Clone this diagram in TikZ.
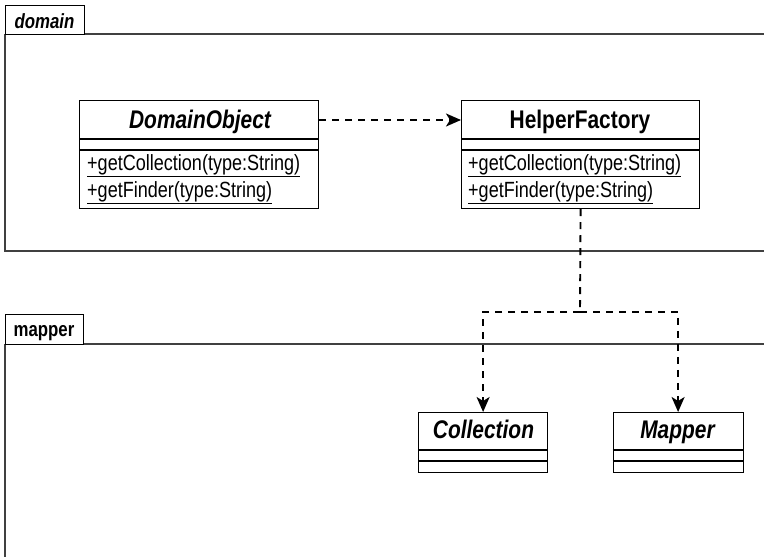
\documentclass[tikz,border=0pt]{standalone}
\usepackage{fontspec}
\setmainfont{Liberation Sans}[FakeStretch=0.82]
\usetikzlibrary{arrows.meta}
\begin{document}
\begin{tikzpicture}[x=1pt,y=-1pt,
  frameline/.style={draw=black!75,line width=1.4pt},
  tabbox/.style={draw=black,line width=1.3pt,fill=white},
  classbox/.style={draw=black,line width=1.2pt,anchor=north west,inner sep=0pt},
  sep/.style={line width=1.2pt},
  cname/.style={font=\fontsize{25.5}{28}\selectfont\bfseries\itshape,inner sep=0pt,anchor=base},
  cnameup/.style={font=\fontsize{25.5}{28}\selectfont\bfseries,inner sep=0pt,anchor=base},
  meth/.style={font=\fontsize{22}{24}\selectfont,anchor=base west,inner sep=0pt},
  pkglabel/.style={font=\fontsize{20.5}{22}\selectfont\bfseries,inner sep=0pt,anchor=base},
  dep/.style={line width=1.9pt,dash pattern=on 7pt off 6pt},
  deparrow/.style={dep,-{Stealth[length=15pt,width=13pt,inset=4pt]}}
]
\useasboundingbox (0,0) rectangle (764,557);

% domain package
\draw[frameline] (84,34) -- (764,34);
\draw[frameline] (5,34) -- (5,251) -- (764,251);
\node[tabbox,anchor=north west,minimum width=79pt,minimum height=29pt] (domtab) at (5,5) {};
\node[pkglabel,font=\fontsize{20.5}{22}\selectfont\bfseries\itshape] (domlbl) at (44.5,28) {domain};

% mapper package
\draw[frameline] (83,344) -- (764,344);
\draw[frameline] (5,344) -- (5,557);
\node[tabbox,anchor=north west,minimum width=78pt,minimum height=30pt] (maptab) at (5,314) {};
\node[pkglabel] (maplbl) at (44,336) {mapper};

% DomainObject
\node[classbox,minimum width=239pt,minimum height=108pt] (dobj) at (79,100) {};
\draw[sep] (79,139) -- (318,139) (79,150) -- (318,150);
\node[cname] (dobjname) at (200,128) {DomainObject};
\node[meth] (dobjm1) at (87,170) {\underline{+getCollection(type:String)}};
\node[meth] (dobjm2) at (87,197) {\underline{+getFinder(type:String)}};

% HelperFactory
\node[classbox,minimum width=238pt,minimum height=108pt] (hf) at (461,100) {};
\draw[sep] (461,139) -- (699,139) (461,150) -- (699,150);
\node[cnameup] (hfname) at (580,128) {HelperFactory};
\node[meth] (hfm1) at (468,170) {\underline{+getCollection(type:String)}};
\node[meth] (hfm2) at (468,197) {\underline{+getFinder(type:String)}};

% Collection
\node[classbox,minimum width=129pt,minimum height=60pt] (col) at (418,412) {};
\draw[sep] (418,450) -- (547,450) (418,461) -- (547,461);
\node[cname] (colname) at (483.5,438) {Collection};

% Mapper
\node[classbox,minimum width=130pt,minimum height=60pt] (map) at (612.5,412) {};
\draw[sep] (612.5,450) -- (742.5,450) (612.5,461) -- (742.5,461);
\node[cname] (mapname) at (677.5,438) {Mapper};

% connectors
\coordinate (split) at (580,312);
\draw[deparrow] (dobj.east |- 0,120) -- (hf.west |- 0,120);
\draw[dep] (hf.south) -- (split);
\draw[deparrow] (split) -| (col.north);
\draw[deparrow] (split) -| (map.north);
\end{tikzpicture}
\end{document}
